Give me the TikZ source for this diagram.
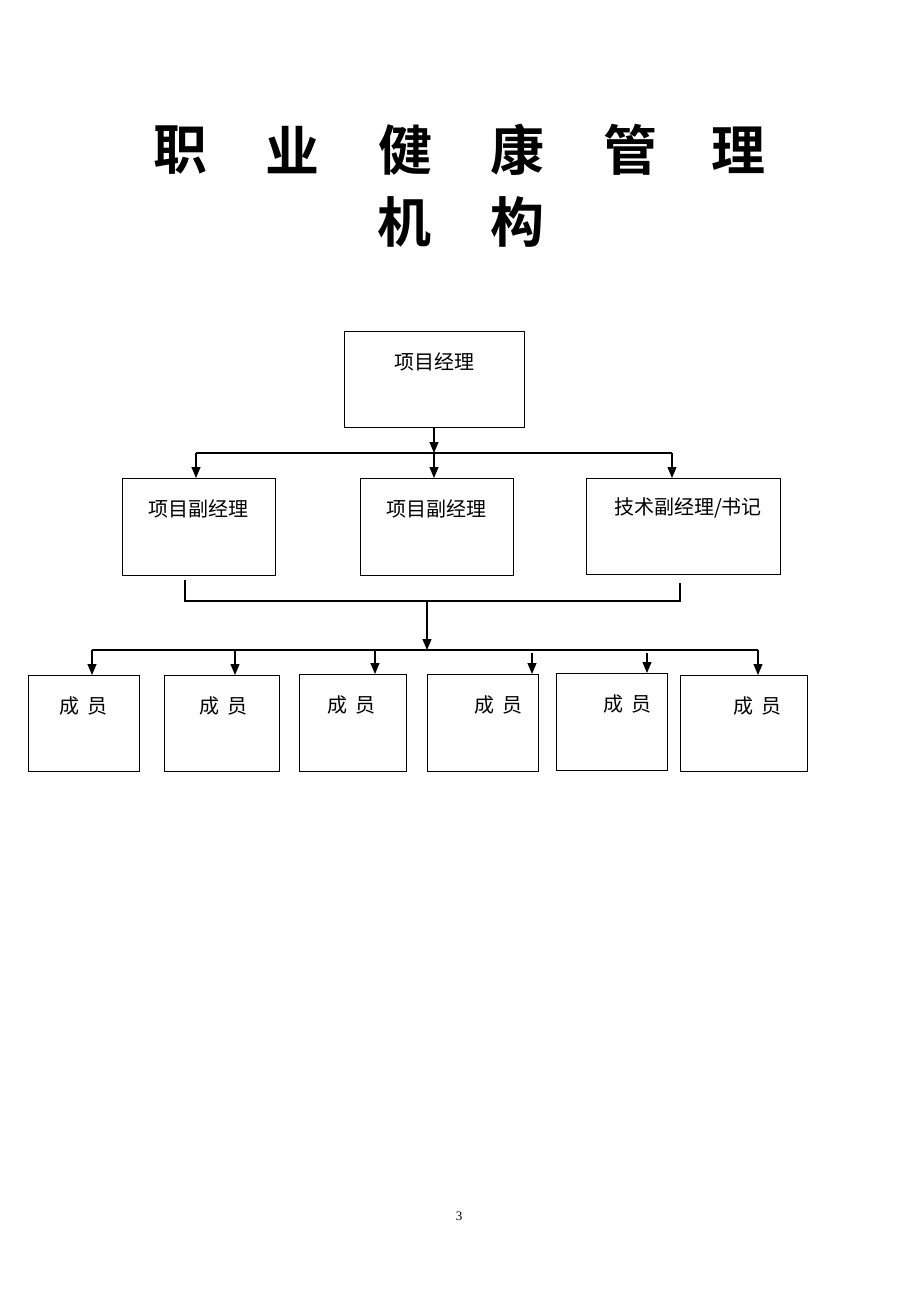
\documentclass[tikz,border=0pt]{standalone}
\usepackage{fontspec}
\newfontfamily\cjk{Noto Sans CJK SC}
\newfontfamily\cjkb{Noto Sans CJK SC Bold}
\setmainfont{Liberation Serif}
\usetikzlibrary{arrows.meta}
\begin{document}
\begin{tikzpicture}[x=1pt,y=-1pt,
  box/.style={draw,line width=1.1pt,inner sep=0pt,anchor=north west},
  lbl/.style={font=\cjk\fontsize{20}{20}\selectfont,inner sep=0pt},
  ttl/.style={font=\cjkb\fontsize{54}{54}\selectfont,inner sep=0pt},
  ln/.style={line width=1.1pt},
  arr/.style={line width=1.1pt,-{Triangle[length=11pt,width=9pt]}}]
\useasboundingbox (0,0) rectangle (920,1302);
% title
\node[ttl] (t1) at (180,150) {职};
\node[ttl] (t2) at (292,150) {业};
\node[ttl] (t3) at (405,150) {健};
\node[ttl] (t4) at (517,150) {康};
\node[ttl] (t5) at (630,150) {管};
\node[ttl] (t6) at (738,150) {理};
\node[ttl] (t7) at (404,222) {机};
\node[ttl] (t8) at (517,222) {构};
% top box
\node[box,minimum width=180pt,minimum height=96pt] (pm) at (344,331) {};
\node[lbl] (pmt) at (434,362) {项目经理};
% second level
\node[box,minimum width=153pt,minimum height=97pt] (d1) at (122,478) {};
\node[box,minimum width=153pt,minimum height=97pt] (d2) at (360,478) {};
\node[box,minimum width=194pt,minimum height=96pt] (d3) at (586,478) {};
\node[lbl] (d1t) at (198,509) {项目副经理};
\node[lbl] (d2t) at (436,509) {项目副经理};
\node[lbl] (d3t) at (688,508) {技术副经理/书记};
% bus 1
\coordinate (b1) at (434,453);
\coordinate (b1l) at (196,453);
\coordinate (b1r) at (672,453);
\draw[arr] (pm.south -| b1) -- (b1);
\draw[ln] (b1l) -- (b1r);
\draw[arr] (b1l) -- (b1l |- d1.north);
\draw[arr] (b1) -- (b1 |- d2.north);
\draw[arr] (b1r) -- (b1r |- d3.north);
% collector
\coordinate (c1) at (185,580);
\coordinate (c2) at (185,601);
\coordinate (c3) at (680,601);
\coordinate (c4) at (680,583);
\coordinate (cm) at (427,601);
\coordinate (b2) at (427,650);
\draw[ln] (c1) -- (c2) -- (c3) -- (c4);
\draw[arr] (cm) -- (b2);
% members
\node[box,minimum width=111pt,minimum height=96pt] (m1) at (28,675) {};
\node[box,minimum width=115pt,minimum height=96pt] (m2) at (164,675) {};
\node[box,minimum width=107pt,minimum height=97pt] (m3) at (299,674) {};
\node[box,minimum width=111pt,minimum height=97pt] (m4) at (427,674) {};
\node[box,minimum width=111pt,minimum height=97pt] (m5) at (556,673) {};
\node[box,minimum width=127pt,minimum height=96pt] (m6) at (680,675) {};
\node[lbl] (m1t) at (83,706) {成\hspace{8pt}员};
\node[lbl] (m2t) at (223,706) {成\hspace{8pt}员};
\node[lbl] (m3t) at (351,705) {成\hspace{8pt}员};
\node[lbl] (m4t) at (498,705) {成\hspace{8pt}员};
\node[lbl] (m5t) at (627,704) {成\hspace{8pt}员};
\node[lbl] (m6t) at (757,706) {成\hspace{8pt}员};
\coordinate (h1) at (92,650);
\coordinate (h2) at (235,650);
\coordinate (h3) at (375,650);
\coordinate (h4) at (532,653);
\coordinate (h5) at (647,653);
\coordinate (h6) at (758,650);
\draw[ln] (h1) -- (h6);
\draw[arr] (h1) -- (h1 |- m1.north);
\draw[arr] (h2) -- (h2 |- m2.north);
\draw[arr] (h3) -- (h3 |- m3.north);
\draw[arr] (h4) -- (h4 |- m4.north);
\draw[arr] (h5) -- (h5 |- m5.north);
\draw[arr] (h6) -- (h6 |- m6.north);
% page number
\node[font=\fontsize{13}{13}\selectfont,inner sep=0pt] (pg) at (459,1216) {3};
\end{tikzpicture}
\end{document}
